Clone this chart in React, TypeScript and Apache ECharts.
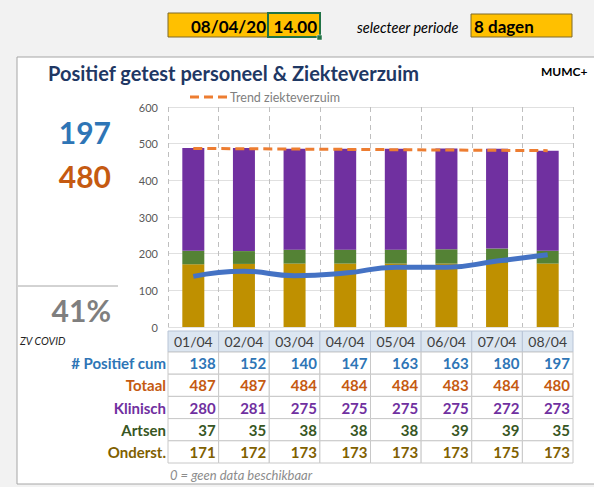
import React, { useEffect, useRef } from "react";
import * as echarts from "echarts";

const dates = ["01/04", "02/04", "03/04", "04/04", "05/04", "06/04", "07/04", "08/04"];
const positiefCum = [138, 152, 140, 147, 163, 163, 180, 197];
const totaal = [487, 487, 484, 484, 484, 483, 484, 480];
const klinisch = [280, 281, 275, 275, 275, 275, 272, 273];
const artsen = [37, 35, 38, 38, 38, 39, 39, 35];
const onderst = [171, 172, 173, 173, 173, 173, 175, 173];
const trendZiekteverzuim = [487, null, null, null, null, null, null, 481];
const yMin = 0;
const yMax = 600;
const yInterval = 100;
const selectedDate = "08/04/20";
const selectedTime = "14.00";
const selectedPeriod = "8 dagen";
const trendLabel = "Trend ziekteverzuim";

const FONT = "Lato, 'Open Sans', sans-serif";

const C = {
  blue: "#2e75b6",
  orange: "#c55a11",
  purple: "#7030a0",
  green: "#375623",
  gold: "#806000",
  barGold: "#bf9000",
  barGreen: "#548235",
  barPurple: "#7030a0",
  line: "#4472c4",
  trend: "#ed7d31",
};

const tableRows = [
  { label: "# Positief cum", values: positiefCum, color: C.blue },
  { label: "Totaal", values: totaal, color: C.orange },
  { label: "Klinisch", values: klinisch, color: C.purple },
  { label: "Artsen", values: artsen, color: C.green },
  { label: "Onderst.", values: onderst, color: C.gold },
];

function txt(x: number, y: number, text: string, font: string, fill: string, align = "left", extra: any = {}) {
  return {
    type: "text",
    x,
    y,
    z: 10,
    silent: true,
    style: { text, font, fill, align, verticalAlign: "middle", ...extra },
  };
}

export default function App() {
  const ref = useRef<HTMLDivElement>(null);
  useEffect(() => {
    if (!ref.current) return;
    const chart = echarts.init(ref.current, undefined, { renderer: "svg" });
    chart.setOption({
      animation: false,
      backgroundColor: "#f2f2f2",
      grid: { left: 168, right: 21, top: 107, bottom: 160 },
      legend: { show: false },
      xAxis: {
        type: "category",
        data: dates,
        axisLabel: { show: false },
        axisTick: { show: false },
        axisLine: { show: false },
        splitLine: { show: true, lineStyle: { type: [5, 4], color: "#bfbfbf" } },
      },
      yAxis: {
        type: "value",
        min: yMin,
        max: yMax,
        interval: yInterval,
        axisLabel: { color: "#595959", fontSize: 11, fontFamily: FONT, margin: 10 },
        axisLine: { show: false },
        axisTick: { show: false },
        splitLine: { lineStyle: { color: "#e0e0e0" } },
      },
      series: [
        { name: "Onderst.", type: "bar", stack: "a", data: onderst, barWidth: 22, itemStyle: { color: C.barGold } },
        { name: "Artsen", type: "bar", stack: "a", data: artsen, itemStyle: { color: C.barGreen } },
        { name: "Klinisch", type: "bar", stack: "a", data: klinisch, itemStyle: { color: C.barPurple } },
        {
          name: "# Positief cum",
          type: "line",
          data: positiefCum,
          smooth: true,
          symbol: "none",
          lineStyle: { color: C.line, width: 5 },
          z: 5,
        },
        {
          name: trendLabel,
          type: "line",
          data: trendZiekteverzuim,
          connectNulls: true,
          symbol: "none",
          itemStyle: { color: C.trend },
          lineStyle: { color: C.trend, width: 3, type: [9, 5] },
          z: 6,
        },
      ],
    });

    const x0 = chart.convertToPixel({ xAxisIndex: 0 }, 0) as number;
    const x1 = chart.convertToPixel({ xAxisIndex: 0 }, 1) as number;
    const cw = x1 - x0;
    const tableLeft = x0 - cw / 2;
    const headerTop = 331;
    const headerH = 21;
    const rowH = 22.2;

    const g: any[] = [];
    // panel
    g.push({ type: "rect", z: -10, silent: true, shape: { x: 17, y: 57, width: 600, height: 427 }, style: { fill: "#ffffff", stroke: "#a6a6a6", lineWidth: 1 } });
    // top controls
    g.push({ type: "rect", z: 1, silent: true, shape: { x: 168, y: 13, width: 152, height: 24 }, style: { fill: "#ffc000", stroke: "#7f6a2a", lineWidth: 1 } });
    g.push({ type: "rect", z: 2, silent: true, shape: { x: 268, y: 13, width: 52, height: 24 }, style: { fill: "#ffc000", stroke: "#217346", lineWidth: 2 } });
    g.push({ type: "rect", z: 3, silent: true, shape: { x: 317, y: 35, width: 5, height: 5 }, style: { fill: "#217346", stroke: "#ffffff", lineWidth: 0.5 } });
    g.push(txt(266, 26, selectedDate, `bold 17px ${FONT}`, "#000", "right"));
    g.push(txt(317, 26, selectedTime, `bold 17px ${FONT}`, "#000", "right"));
    g.push(txt(357, 27, "selecteer periode", `italic 14.5px ${FONT}`, "#000", "left"));
    g.push({ type: "rect", z: 1, silent: true, shape: { x: 471, y: 14, width: 101, height: 23 }, style: { fill: "#ffc000", stroke: "#7f6a2a", lineWidth: 1 } });
    g.push(txt(474, 26, selectedPeriod, `bold 17px ${FONT}`, "#000", "left"));
    // title
    g.push(txt(48, 73, "Positief getest personeel & Ziekteverzuim", `bold 20px ${FONT}`, "#1f3864", "left"));
    g.push(txt(541, 71, "MUMC+", `bold 12px ${FONT}`, "#000", "left"));
    // legend (dashed trend line)
    g.push({ type: "line", z: 10, silent: true, shape: { x1: 190, y1: 97, x2: 228, y2: 97 }, style: { stroke: C.trend, lineWidth: 3, lineDash: [9, 5] } });
    g.push(txt(230, 97, trendLabel, `12.5px ${FONT}`, "#808080", "left"));
    // KPIs
    const lastPos = positiefCum[positiefCum.length - 1];
    const lastTot = totaal[totaal.length - 1];
    g.push(txt(111, 132, String(lastPos), `bold 30px ${FONT}`, C.blue, "right"));
    g.push(txt(111, 176, String(lastTot), `bold 30px ${FONT}`, C.orange, "right"));
    g.push({ type: "line", z: 1, silent: true, shape: { x1: 18, y1: 286, x2: 118, y2: 286 }, style: { stroke: "#a6a6a6", lineWidth: 1 } });
    g.push(txt(111, 310, `${Math.round((lastPos / lastTot) * 100)}%`, `bold 30px ${FONT}`, "#7f7f7f", "right"));
    g.push(txt(20, 341, "ZV COVID", `italic 10.5px ${FONT}`, "#222", "left"));
    // table header
    dates.forEach((d, i) => {
      const cx = chart.convertToPixel({ xAxisIndex: 0 }, i) as number;
      g.push({ type: "rect", z: 1, silent: true, shape: { x: cx - cw / 2, y: headerTop, width: cw, height: headerH }, style: { fill: "#dce6f1", stroke: "#b8c4d6", lineWidth: 1 } });
      g.push(txt(cx, headerTop + headerH / 2, d, `14px ${FONT}`, "#404040", "center"));
    });
    tableRows.forEach((row, r) => {
      const y = headerTop + headerH + r * rowH;
      g.push(txt(tableLeft - 2, y + rowH / 2, row.label, `bold 15px ${FONT}`, row.color, "right"));
      row.values.forEach((v, i) => {
        const cx = chart.convertToPixel({ xAxisIndex: 0 }, i) as number;
        g.push({ type: "rect", z: 1, silent: true, shape: { x: cx - cw / 2, y, width: cw, height: rowH }, style: { fill: "#ffffff", stroke: "#c8c8c8", lineWidth: 1 } });
        g.push(txt(cx + cw / 2 - 3, y + rowH / 2, String(v), `bold 15px ${FONT}`, row.color, "right"));
      });
    });
    g.push(txt(170, 475, "0 = geen data beschikbaar", `italic 13px ${FONT}`, "#8c8c8c", "left"));

    chart.setOption({ graphic: { elements: g } });
    return () => chart.dispose();
  }, []);
  return <div ref={ref} style={{ position: "absolute", left: 0, top: 0, width: 594, height: 487 }} />;
}
